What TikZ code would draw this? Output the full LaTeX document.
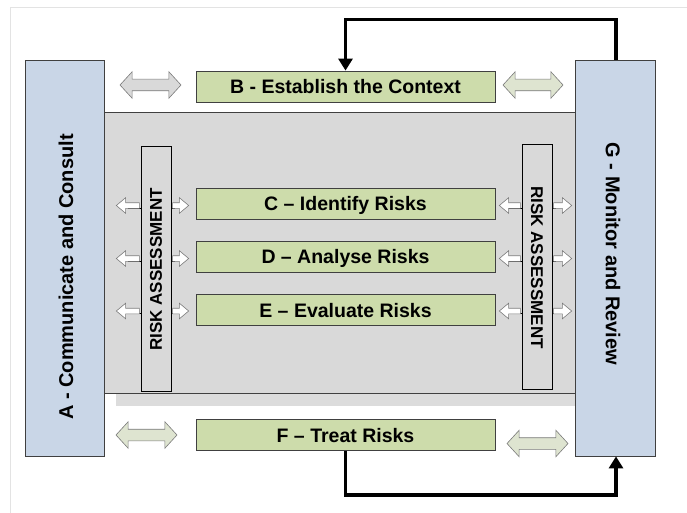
\documentclass[tikz,border=0pt]{standalone}
\usepackage{fontspec}
\setmainfont{Liberation Sans}
\usetikzlibrary{shapes.arrows,arrows.meta}
\definecolor{boxblue}{HTML}{C9D6E7}
\definecolor{boxgreen}{HTML}{CDDCAB}
\definecolor{panelgray}{HTML}{D9D9D9}
\definecolor{shadowgray}{HTML}{DCDCDC}
\definecolor{edge}{HTML}{404040}
\definecolor{arrowgreen}{HTML}{DEE4D0}
\definecolor{framegray}{HTML}{E3E3E3}
\definecolor{arrowedge}{HTML}{7A7A7A}
\begin{document}
\begin{tikzpicture}[x=1pt,y=-1pt,
  box/.style={draw=edge, line width=0.8pt, inner sep=0pt},
  bluebox/.style={box, fill=boxblue},
  greenbox/.style={box, fill=boxgreen, minimum width=299pt, minimum height=31pt,
     font=\fontsize{19.5}{22}\selectfont\bfseries, text height=14pt, text depth=0pt},
  rabox/.style={box, draw=black, fill=panelgray, minimum width=30pt, minimum height=245pt},
  ratext/.style={font=\fontsize{17}{20}\selectfont\bfseries, inner sep=0pt},
  sidetext/.style={font=\fontsize{20}{24}\selectfont\bfseries, inner sep=0pt, text height=14.3pt, text depth=0pt},
  dbl/.style={double arrow, draw=arrowedge, line width=0.6pt, inner sep=5.5pt,
     double arrow head extend=7.5pt, minimum height=61pt, double arrow tip angle=95},
  sarr/.style={single arrow, draw=arrowedge, fill=white, line width=0.6pt, inner sep=2.5pt,
     single arrow head extend=5pt, single arrow tip angle=80},
  inl/.style={black, line width=0.7pt},
  fb/.style={line width=3.5pt, -{Triangle[width=14pt,length=12pt]}}]
\useasboundingbox (0,0) rectangle (687,513);
% page frame
\draw[framegray, line width=1pt] (687,8) -- (10,8) -- (10,513);
% central panel with shadow
\fill[shadowgray] (116,393) rectangle (575,406);
\draw[edge, line width=0.8pt, fill=panelgray] (104,112) rectangle (575,393);
% side boxes
\node[bluebox, minimum width=79pt, minimum height=396pt] (A) at (64.5,258) {};
\node[bluebox, minimum width=80pt, minimum height=396pt] (G) at (615,258) {};
\node[sidetext, rotate=90] (At) at (66,277) {A - Communicate and Consult};
\node[sidetext, rotate=-90] (Gt) at (613,254) {G - Monitor and Review};
% step boxes
\node[greenbox] (B) at (345.5,86.5) {B - Establish the Context};
\node[greenbox] (C) at (345.5,203.5) {C – Identify Risks};
\node[greenbox] (D) at (345.5,256.5) {D – Analyse Risks};
\node[greenbox] (E) at (345.5,310) {E – Evaluate Risks};
\node[greenbox] (F) at (345.5,435) {F – Treat Risks};
% risk assessment bars
\node[rabox] (RL) at (156,268.5) {};
\node[rabox] (RR) at (537,266.5) {};
\node[ratext, rotate=90] (RLt) at (156,269.5) {RISK ASSESSMENT};
\node[ratext, rotate=-90] (RRt) at (537,267.5) {RISK ASSESSMENT};
% double arrows
\node[dbl, fill=panelgray] (dB1) at (150.5,85) {};
\node[dbl, fill=arrowgreen, minimum height=60pt] (dB2) at (533,85) {};
\node[dbl, fill=arrowgreen] (dF1) at (146.5,435) {};
\node[dbl, fill=arrowgreen] (dF2) at (537.5,443.5) {};
% small arrows
\foreach \n/\y in {1/205.5,2/258.5,3/311}{
  \draw[inl] (RL.west |- 0,\y+2.5) -- ++(-13,0);
  \draw[inl] (RL.east |- 0,\y+2.5) -- ++(4,0);
  \draw[inl] (RR.west |- 0,\y+2.5) -- ++(-14,0);
  \draw[inl] (RR.east |- 0,\y+2.5) -- ++(4,0);
  \node[sarr, shape border rotate=180, minimum height=23pt] (l\n) at (129.5,\y) {};
  \node[sarr, minimum height=16pt] (r\n) at (179,\y) {};
  \node[sarr, shape border rotate=180, minimum height=21pt] (L\n) at (511.5,\y) {};
  \node[sarr, minimum height=18pt] (R\n) at (561,\y) {};
}
% feedback loops
\draw[fb] ([xshift=1pt]G.north) -- ++(0,-40) -| (B.north);
\draw[fb] (F.south) -- ++(0,44) -| ([xshift=1pt]G.south);
\end{tikzpicture}
\end{document}
